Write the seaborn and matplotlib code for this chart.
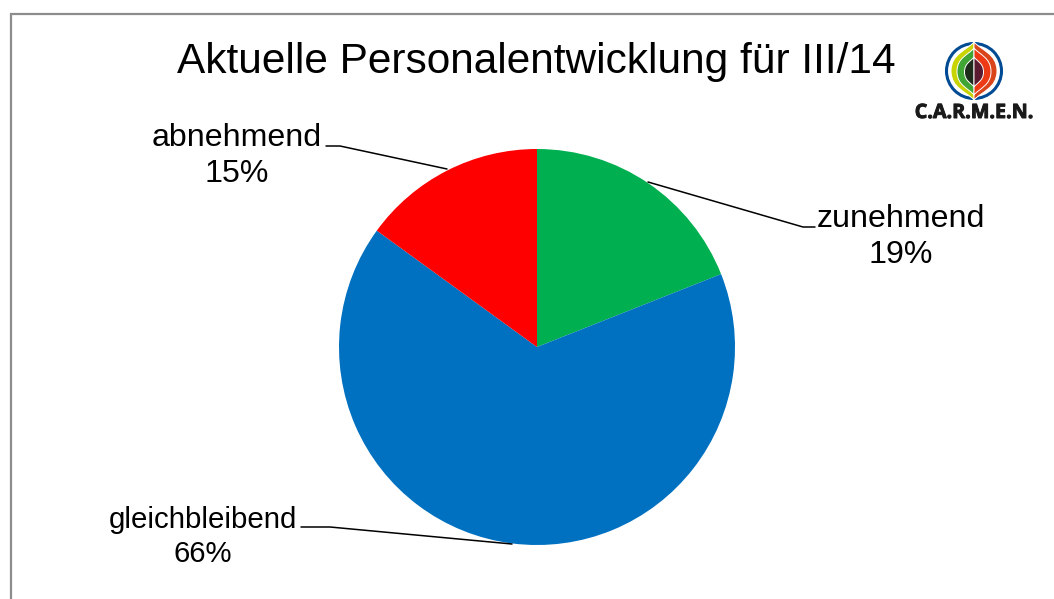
import matplotlib
matplotlib.use("Agg")
import matplotlib.pyplot as plt
import matplotlib.patheffects as pe
from matplotlib.patches import Circle, PathPatch
from matplotlib.path import Path
import seaborn as sns

W, H = 1054, 599
TITLE = "Aktuelle Personalentwicklung für III/14"
categories = ["zunehmend", "gleichbleibend", "abnehmend"]
shares = [19, 66, 15]
slice_colors = ["#00B050", "#0070C0", "#FF0000"]

sns.set_theme(style="white")
plt.rcParams["font.family"] = ["Liberation Sans", "DejaVu Sans"]

fig = plt.figure(figsize=(W / 100, H / 100), dpi=100, facecolor="white")

# Full-size overlay in pixel units for frame, callouts and logo
overlay = fig.add_axes([0, 0, 1, 1], zorder=3)
overlay.set_xlim(0, W)
overlay.set_ylim(H, 0)
overlay.axis("off")
overlay.patch.set_alpha(0)

# Pie, radius 198 px around (537, 347)
cx, cy, r = 537, 347, 198
pie_ax = fig.add_axes([(cx - r) / W, 1 - (cy + r) / H, 2 * r / W, 2 * r / H], zorder=2)
pie_ax.pie(shares, colors=sns.color_palette(slice_colors), startangle=90,
           counterclock=False, radius=1.0, wedgeprops={"linewidth": 0})
pie_ax.set_xlim(-1, 1)
pie_ax.set_ylim(-1, 1)

# Chart frame runs off the right and bottom edges
overlay.plot([10.5, 10.5, W + 5], [H + 5, 14, 14], color="#8C8C8C", lw=1.6,
             solid_joinstyle="miter", clip_on=False)

overlay.text(536.5, 62.5, TITLE, fontsize=30.5, color="black", ha="center", va="center")

# Callout text and leader lines
callouts = {
    "zunehmend": ((901, 237), 23.1, [(648, 182), (803, 227), (815, 227)]),
    "gleichbleibend": ((203, 537), 21.2, [(512, 544), (330, 527), (301, 527)]),
    "abnehmend": ((236.5, 156), 23.1, [(447, 169), (340, 146), (326, 146)]),
}
for name, share in zip(categories, shares):
    (tx, ty), size, leader = callouts[name]
    overlay.text(tx, ty, f"{name}\n{share}%", fontsize=size, color="black",
                 ha="center", va="center", linespacing=1.3)
    overlay.plot(*zip(*leader), color="black", lw=1.1, solid_joinstyle="miter")


def half_leaf(x0, top, bottom, width, side):
    """Closed onion-shaped half outline on one side of the vertical x0."""
    s = side * width
    mid = (top + bottom) / 2
    h = bottom - top
    verts = [(x0, top),
             (x0 + 0.3 * s, top + 0.14 * h), (x0 + s, top + 0.2 * h), (x0 + s, mid),
             (x0 + s, bottom - 0.2 * h), (x0 + 0.3 * s, bottom - 0.14 * h), (x0, bottom),
             (x0, top)]
    codes = [Path.MOVETO] + [Path.CURVE4] * 6 + [Path.CLOSEPOLY]
    return Path(verts, codes)


# Logo mark
lx, ly = 974, 71
overlay.add_patch(Circle((lx, ly), 27.5, fc="white", ec="#004B93", lw=2.2))
layers = [
    (-29, 29, 23, "#C8D400", "#D9441A"),
    (-23, 24, 17, "#3FA535", "#EE3A14"),
    (-14, 16, 9.5, "#1C2B1A", "#5A1A30"),
]
for t, b, w, left, right in layers:
    for side, colour in ((-1, left), (1, right)):
        overlay.add_patch(PathPatch(half_leaf(lx, ly + t, ly + b, w, side),
                                    fc=colour, ec="white", lw=0.7))
overlay.text(974, 113, "C.A.R.M.E.N.", fontsize=14.2, fontweight="bold",
             color="#1A1A1A", ha="center", va="center",
             fontfamily=["Open Sans", "DejaVu Sans"],
             path_effects=[pe.withStroke(linewidth=0.7, foreground="#1A1A1A")])

fig.savefig("out.png", dpi=100, facecolor="white")
